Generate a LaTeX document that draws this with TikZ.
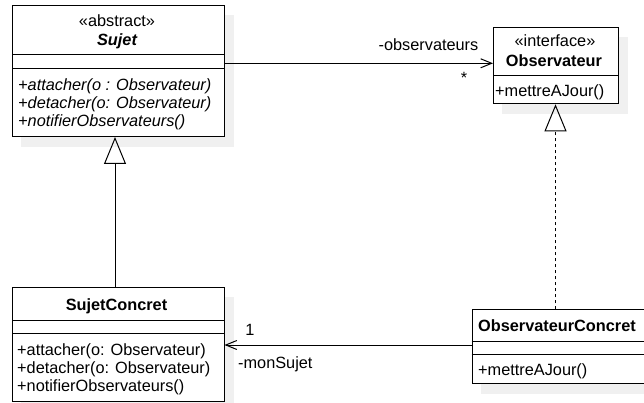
\documentclass[tikz,border=0pt]{standalone}
\usepackage{fontspec}
\setmainfont{Liberation Sans}
\usetikzlibrary{arrows.meta,backgrounds}
\begin{document}
\begin{tikzpicture}[x=1pt,y=-1pt,
  font=\fontsize{16.3}{18}\selectfont,
  classbox/.style={draw=black, line width=1pt, fill=white, inner sep=0pt, anchor=north west},
  shadowbox/.style={fill=black!6, draw=none},
  sep/.style={draw=black, line width=1pt},
  txt/.style={inner sep=0pt, anchor=base west},
  ttl/.style={inner sep=0pt, anchor=base},
  assoc/.style={draw=black, line width=1pt, -{Straight Barb[length=11pt,width=9pt,line width=1pt]}},
  inherit/.style={draw=black, line width=1pt, -{Triangle[open,length=27pt,width=22pt,line width=1pt]}},
  realize/.style={inherit, dash pattern=on 3.3pt off 2.7pt},
]
\useasboundingbox (0,0) rectangle (644,403);

% class boxes
\node[classbox, minimum width=212pt, minimum height=130.5pt] (sujet) at (12,5.5) {};
\node[classbox, minimum width=124.5pt, minimum height=76.3pt] (obs) at (493,27) {};
\node[classbox, minimum width=211.5pt, minimum height=113.4pt] (sujetc) at (12,287.3) {};
\node[classbox, minimum width=175pt, minimum height=73.4pt] (obsc) at (471.7,309.3) {};

% drop shadows
\begin{scope}[on background layer]
  \foreach \n in {sujet,obs,sujetc,obsc}
    \fill[shadowbox] ([shift={(9,10)}]\n.north west) rectangle ([shift={(9,10)}]\n.south east);
\end{scope}

% compartment separators
\draw[sep] (sujet.west |- 0,55) -- (sujet.east |- 0,55);
\draw[sep] (sujet.west |- 0,69) -- (sujet.east |- 0,69);
\draw[sep] (obs.west |- 0,76) -- (obs.east |- 0,76);
\draw[sep] (sujetc.west |- 0,320.7) -- (sujetc.east |- 0,320.7);
\draw[sep] (sujetc.west |- 0,333.3) -- (sujetc.east |- 0,333.3);
\draw[sep] (obsc.west |- 0,341.7) -- (obsc.east |- 0,341.7);
\draw[sep] (obsc.west |- 0,354.3) -- (obsc.east |- 0,354.3);

% Sujet
\node[ttl] (sujetst) at (117,27) {«abstract»};
\node[ttl] (sujetnm) at (117,46) {\bfseries\itshape Sujet};
\node[txt] (sujetm1) at (18,91) {\itshape +attacher(o : Observateur)};
\node[txt] (sujetm2) at (18,109) {\itshape +detacher(o: Observateur)};
\node[txt] (sujetm3) at (18,126.8) {\itshape +notifierObservateurs()};

% Observateur
\node[ttl] (obsst) at (555,46.7) {«interface»};
\node[ttl] (obsnm) at (554,67) {\bfseries Observateur};
\node[txt] (obsm1) at (495,96.7) {+mettreAJour()};

% SujetConcret
\node[ttl] (sujetcnm) at (116.5,310.7) {\bfseries SujetConcret};
\node[txt] (sujetcm1) at (17,355.7) {+attacher(o: Observateur)};
\node[txt] (sujetcm2) at (17,373.8) {+detacher(o: Observateur)};
\node[txt] (sujetcm3) at (17,391.7) {+notifierObservateurs()};

% ObservateurConcret
\node[ttl] (obscnm) at (557,331.7) {\bfseries ObservateurConcret};
\node[txt] (obscm1) at (478,375) {+mettreAJour()};

% relations
\draw[assoc] (sujet.east |- 0,63.3) -- (obs.west |- 0,63.3);
\draw[assoc] (obsc.west |- 0,345) -- (sujetc.east |- 0,345);
\draw[inherit] (sujetc.north -| 115,0) -- (sujet.south -| 115,0);
\draw[realize] (obsc.north -| 555.5,0) -- (obs.south -| 555.5,0);

% association ends
\node[ttl] (lblobs) at (428.5,50.7) {-observateurs};
\node[ttl] (multobs) at (464,84) {*};
\node[ttl] (multsuj) at (250,335) {1};
\node[txt] (lblsuj) at (238,368.3) {-monSujet};
\end{tikzpicture}
\end{document}
